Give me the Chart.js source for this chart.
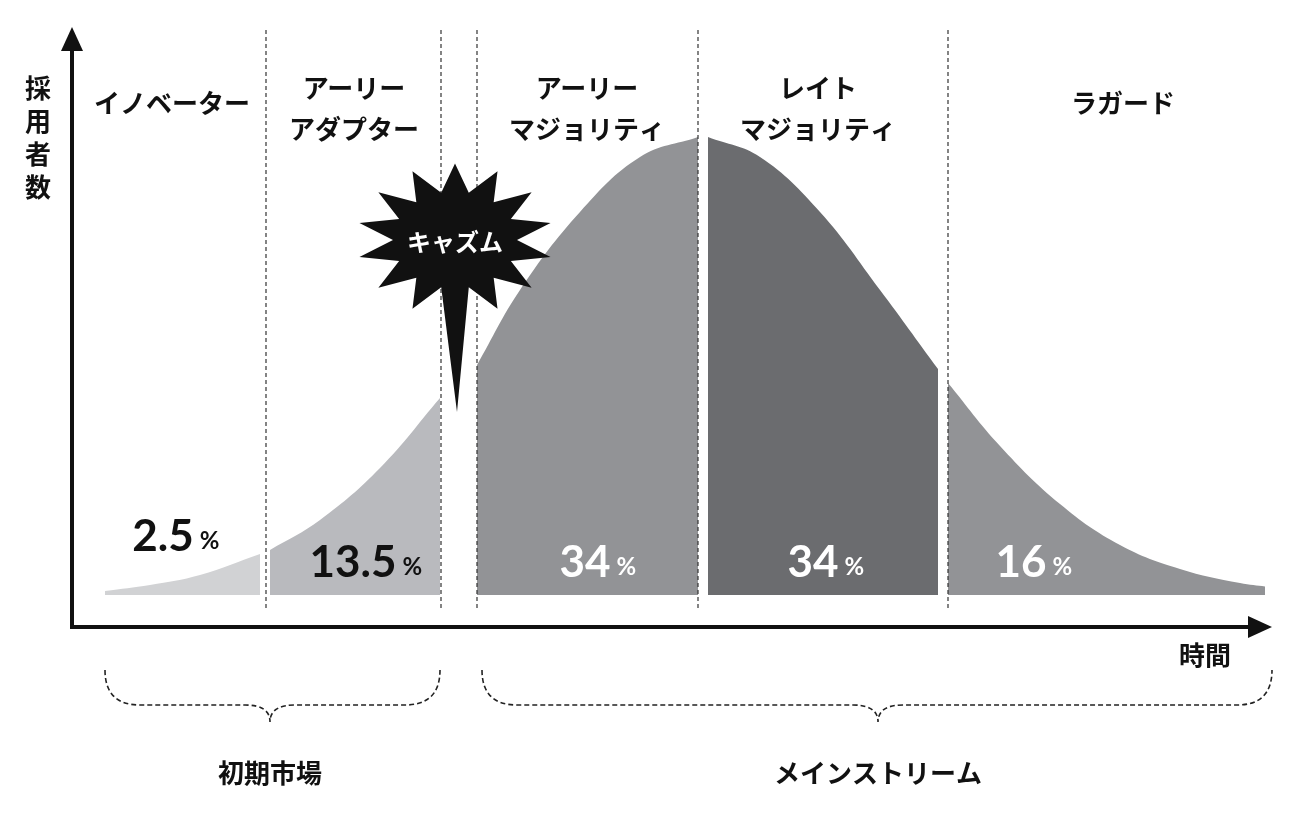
<!DOCTYPE html>
<html>
<head>
<meta charset="utf-8">
<script src="https://cdn.jsdelivr.net/npm/chart.js@4"></script>
<style>
  body { margin: 0; background: #fff; }
  canvas { display: block; }
</style>
</head>
<body>
<canvas id="chasm" width="1300" height="815"></canvas>
<script>
(function() {
    'use strict';

    // Curve segments (x = time, y = adopters), baseline of fills
    const BASELINE = 32;
    const innovators = [[105, 36], [150, 42], [200, 52], [260, 73]];
    const earlyAdopters = [[270, 77], [320, 107], [380, 159], [440, 229]];
    const earlyMajority = [[477, 262], [520, 337], [580, 415], [640, 470], [698, 490]];
    const lateMajority = [[708, 490], [760, 470], [820, 415], [880, 337], [938, 258]];
    const laggards = [[948, 244], [1000, 181], [1060, 123], [1120, 82], [1180, 58], [1240, 44], [1280, 39]];

    const segmentColors = ['#d1d2d4', '#b9babe', '#929396', '#6b6c6f', '#929396'];
    const segmentNames = ['イノベーター', 'アーリー\nアダプター', 'アーリー\nマジョリティ', 'レイト\nマジョリティ', 'ラガード'];
    const segmentLabelX = [172, 354, 587, 818, 1123];
    const shares = ['2.5', '13.5', '34', '34', '16'];
    const shareX = [175, 365, 597, 825, 1033];
    const shareY = [90, 64, 64, 64, 64];
    const shareColors = ['#111', '#111', '#fff', '#fff', '#fff'];
    const dividers = [266, 441, 477, 698, 948];

    const FONT = '"Noto Sans CJK JP", "Noto Sans", sans-serif';
    const NUMFONT = 'Lato, "Noto Sans", sans-serif';
    const toPts = arr => arr.map(p => ({ x: p[0], y: p[1] }));

    const datasets = [innovators, earlyAdopters, earlyMajority, lateMajority, laggards].map((seg, i) => ({
        data: toPts(seg),
        borderWidth: 0,
        pointRadius: 0,
        tension: 0.4,
        backgroundColor: segmentColors[i],
        fill: { value: BASELINE }
    }));

    const decor = {
        id: 'decor',
        afterDatasetsDraw(chart) {
            const c = chart.ctx;
            const xs = chart.scales.x, ys = chart.scales.y;
            const px = v => xs.getPixelForValue(v);
            const py = v => ys.getPixelForValue(v);
            const y0 = py(0), yTop = py(597);
            c.save();

            // dividers
            c.strokeStyle = '#333';
            c.lineWidth = 1.2;
            c.setLineDash([4, 3]);
            dividers.forEach(d => {
                c.beginPath();
                c.moveTo(px(d), yTop);
                c.lineTo(px(d), py(17));
                c.stroke();
            });
            c.setLineDash([]);

            // axes with arrows
            c.strokeStyle = '#111';
            c.fillStyle = '#111';
            c.lineWidth = 4;
            c.beginPath();
            c.moveTo(px(72), py(590));
            c.lineTo(px(72), y0);
            c.lineTo(px(1250), y0);
            c.stroke();
            c.beginPath();
            c.moveTo(px(72), py(600));
            c.lineTo(px(72) - 11, py(600) + 24);
            c.lineTo(px(72) + 11, py(600) + 24);
            c.fill();
            c.beginPath();
            c.moveTo(px(1272), y0);
            c.lineTo(px(1248), y0 - 11);
            c.lineTo(px(1248), y0 + 11);
            c.fill();

            // segment names
            c.textAlign = 'center';
            c.textBaseline = 'middle';
            c.font = 'bold 26px ' + FONT;
            segmentNames.forEach((n, i) => {
                const lines = n.split('\n');
                const start = lines.length === 1 ? 103 : 88;
                lines.forEach((l, j) => c.fillText(l, segmentLabelX[i], start + j * 41));
            });

            // shares
            shares.forEach((s, i) => {
                c.fillStyle = shareColors[i];
                c.font = 'bold 44px ' + NUMFONT;
                const w = c.measureText(s).width;
                c.textAlign = 'left';
                c.fillText(s, shareX[i] - w / 2 - 12, py(shareY[i]));
                c.font = 'bold 24px ' + NUMFONT;
                c.fillText('%', shareX[i] + w / 2 - 6, py(shareY[i]) + 4);
            });

            // chasm burst
            const cx = 455, cy = 240;
            c.fillStyle = '#111';
            c.beginPath();
            const n = 14;
            for (let k = 0; k < n * 2; k++) {
                const a = -Math.PI / 2 + k * Math.PI / n;
                let r = k % 2 === 0 ? 98 : 62;
                let x = cx + Math.cos(a) * r, y = cy + Math.sin(a) * r * 0.78;
                if (k === n) { x = 457; y = 412; }
                k === 0 ? c.moveTo(x, y) : c.lineTo(x, y);
            }
            c.closePath();
            c.fill();
            c.fillStyle = '#fff';
            c.textAlign = 'center';
            c.font = 'bold 24px ' + FONT;
            c.fillText('キャズム', cx, cy + 2);

            // axis titles
            c.fillStyle = '#111';
            c.font = 'bold 26px ' + FONT;
            ['採', '用', '者', '数'].forEach((ch, i) => c.fillText(ch, 38, 88 + i * 33));
            c.fillText('時間', 1205, 655);
            c.fillText('初期市場', 270, 773);
            c.fillText('メインストリーム', 878, 773);

            // braces
            c.strokeStyle = '#222';
            c.lineWidth = 1.6;
            c.setLineDash([5, 3]);
            const brace = (l, r, m) => {
                const top = 670, mid = 705, tip = 722;
                c.beginPath();
                c.moveTo(l, top);
                c.quadraticCurveTo(l, mid, l + 35, mid);
                c.lineTo(m - 25, mid);
                c.quadraticCurveTo(m, mid, m, tip);
                c.quadraticCurveTo(m, mid, m + 25, mid);
                c.lineTo(r - 35, mid);
                c.quadraticCurveTo(r, mid, r, top);
                c.stroke();
            };
            brace(105, 440, 270);
            brace(482, 1272, 878);
            c.restore();
        }
    };

    new Chart(document.getElementById('chasm'), {
        type: 'line',
        data: { datasets: datasets },
        options: {
            responsive: false,
            animation: false,
            layout: { padding: { left: 72, right: 35, top: 30, bottom: 188 } },
            plugins: { legend: { display: false }, tooltip: { enabled: false } },
            scales: {
                x: { type: 'linear', min: 72, max: 1265, display: false },
                y: { min: 0, max: 597, display: false }
            }
        },
        plugins: [decor]
    });
})();
</script>
</body>
</html>
